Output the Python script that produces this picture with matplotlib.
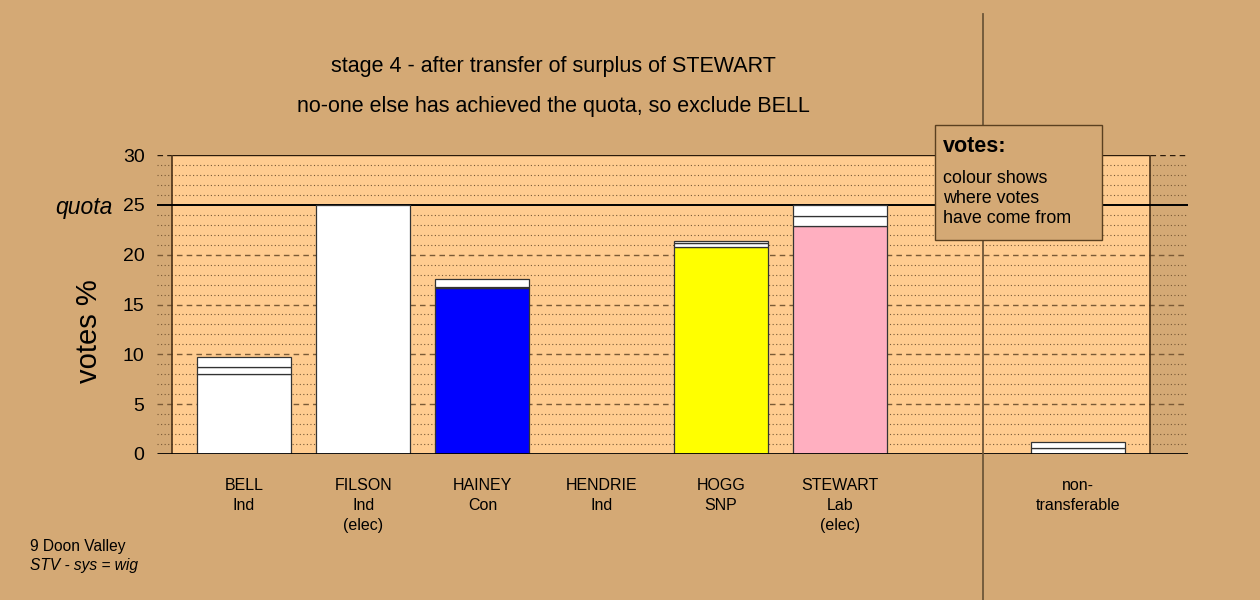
import matplotlib
matplotlib.use("Agg")
import matplotlib.pyplot as plt
from matplotlib.patches import Rectangle

plt.rcParams['font.family'] = ['Liberation Sans', 'DejaVu Sans']

# --- data -------------------------------------------------------------
labels = ["BELL\nInd", "FILSON\nInd\n(elec)", "HAINEY\nCon", "HENDRIE\nInd",
          "HOGG\nSNP", "STEWART\nLab\n(elec)", "non-\ntransferable"]
positions = [0, 1, 2, 3, 4, 5, 7]
first_pref = [8.05, 25.0, 16.7, 0.0, 20.8, 22.9, 0.57]
transfer_a = [0.70, 0.0, 0.10, 0.0, 0.33, 1.00, 0.63]
transfer_b = [0.95, 0.0, 0.80, 0.0, 0.27, 1.10, 0.0]
party_colours = ["#FFFFFF", "#FFFFFF", "#0000FF", "#FFFFFF",
                 "#FFFF00", "#FFAFC0", "#FFFFFF"]
quota = 25
yticks = [0, 5, 10, 15, 20, 25, 30]
title_1 = "stage 4 - after transfer of surplus of STEWART"
title_2 = "no-one else has achieved the quota, so exclude BELL"
note_lines = ["colour shows", "where votes", "have come from"]

# --- style --------------------------------------------------------------
BG = "#D4A975"
PANEL = "#FFCC90"
GRID = "#7A5A36"
W, H = 1260, 600

fig = plt.figure(figsize=(12.6, 6), dpi=100, facecolor=BG)
ax = fig.add_axes([157 / W, (H - 454) / H, (1188 - 157) / W, 299 / H])
ax.set_facecolor("none")
for s in ax.spines.values():
    s.set_visible(False)

x_lo, x_hi = -0.73, 7.92
px_left, px_right = -0.60, 7.60
ax.set_xlim(x_lo, x_hi)
ax.set_ylim(0, 30)

# panel background
ax.add_patch(Rectangle((px_left, 0), px_right - px_left, 30, facecolor=PANEL,
                       edgecolor="none", zorder=0))

# horizontal grid
for v in range(1, 30):
    if v == quota:
        continue
    if v % 5 == 0:
        ax.hlines(v, x_lo, x_hi, colors=GRID, lw=1.0, linestyles=(0, (4, 3)), zorder=1)
    else:
        ax.hlines(v, x_lo, x_hi, colors=GRID, lw=0.8, linestyles=(0, (1, 2.2)), zorder=1)
# top line: solid over the panel, dashed outside
ax.hlines(30, px_left, px_right, colors="#2a1a0a", lw=1.0, zorder=2)
ax.hlines(30, x_lo, px_left, colors="#2a1a0a", lw=1.0, linestyles=(0, (4, 3)), zorder=2)
ax.hlines(30, px_right, x_hi, colors="#2a1a0a", lw=1.0, linestyles=(0, (4, 3)), zorder=2)
# panel side edges
ax.vlines([px_left, px_right], 0, 30, colors="#4a3218", lw=1.2, zorder=2)
# quota and baseline
ax.hlines(quota, x_lo, x_hi, colors="black", lw=1.4, zorder=2)
ax.hlines(0, x_lo, x_hi, colors="black", lw=2.0, zorder=4)

# stacked bars
bw = 0.79
edge = dict(edgecolor="#333333", linewidth=0.9, zorder=3)
bottom2 = [a + b for a, b in zip(first_pref, transfer_a)]
for i, x in enumerate(positions):
    if first_pref[i] + transfer_a[i] + transfer_b[i] == 0:
        continue
    ax.bar(x, first_pref[i], bw, color=party_colours[i], **edge)
    if transfer_a[i] > 0:
        ax.bar(x, transfer_a[i], bw, bottom=first_pref[i], color="white", **edge)
    if transfer_b[i] > 0:
        ax.bar(x, transfer_b[i], bw, bottom=bottom2[i], color="white", **edge)

# separator between candidates and non-transferable
ax.axvline(6.20, ymin=-0.49, ymax=1.472, color="#6E5638", lw=1.3, clip_on=False, zorder=5)

# axes ticks and labels
ax.set_yticks(yticks)
ax.set_yticklabels([str(t) for t in yticks], fontsize=14)
ax.tick_params(axis="y", length=0, pad=9)
ax.set_xticks(positions)
ax.set_xticklabels(labels, fontsize=11.5, linespacing=1.42)
ax.tick_params(axis="x", length=0, pad=17)
ax.text(-1.10, quota, "quota", fontsize=16.5, style="italic", ha="right",
        va="center_baseline")
fig.text(89 / W, 1 - 331 / H, "votes %", fontsize=21, rotation=90,
         ha="center", va="center")

# titles
fig.text(553 / W, 1 - 72 / H, title_1, fontsize=15.5, ha="center", va="baseline")
fig.text(553 / W, 1 - 112 / H, title_2, fontsize=15.5, ha="center", va="baseline")

# explanatory box
fig.patches.append(Rectangle((935 / W, 1 - 240 / H), 167 / W, 115 / H,
                             transform=fig.transFigure, facecolor=BG,
                             edgecolor="#5a4020", lw=1.0, zorder=10))
fig.text(943 / W, 1 - 152 / H, "votes:", fontsize=15.5, weight="bold",
         va="baseline", zorder=11)
for k, line in enumerate(note_lines):
    fig.text(943 / W, 1 - (183 + 20 * k) / H, line, fontsize=12.9,
             va="baseline", zorder=11)

# footer
fig.text(30 / W, 1 - 551 / H, "9 Doon Valley", fontsize=11.2, va="baseline")
fig.text(30 / W, 1 - 570 / H, "STV - sys = wig", fontsize=11.2, style="italic",
         va="baseline")

fig.savefig("out.png", dpi=100, facecolor=BG)
